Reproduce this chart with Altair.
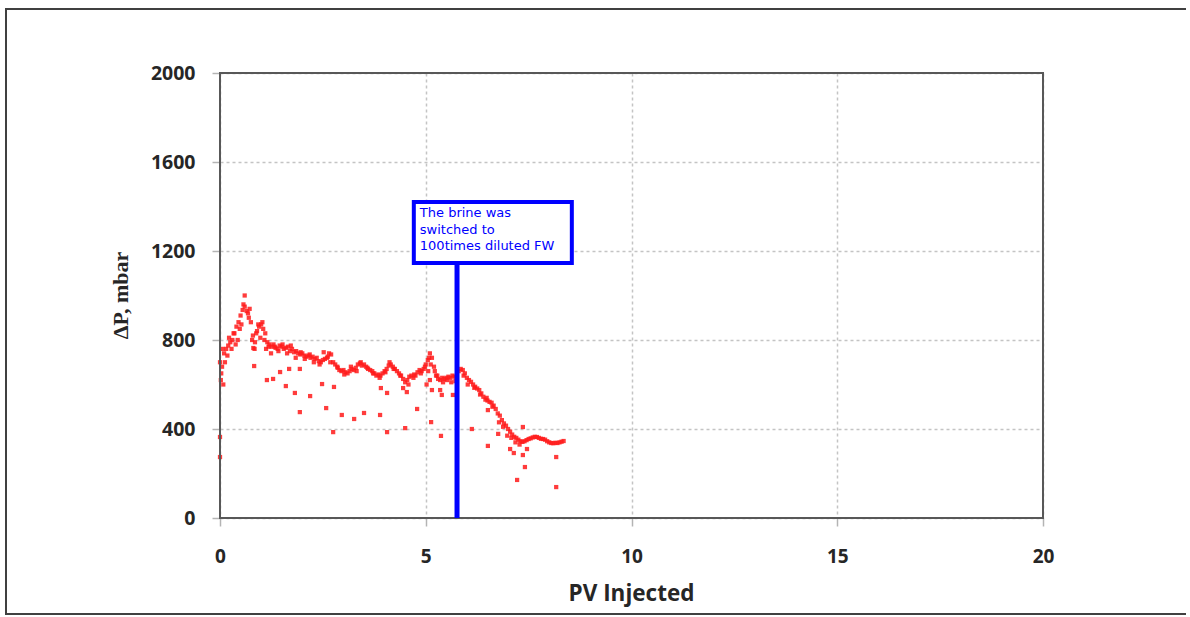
import altair as alt
import pandas as pd

# Main pressure-drop trace (PV injected vs. differential pressure, mbar)
pv_injected = [
    0.00, 0.05, 0.10, 0.15, 0.20, 0.25, 0.30, 0.35, 0.40, 0.45,
    0.50, 0.55, 0.60, 0.65, 0.70, 0.75, 0.80, 0.85, 0.90, 0.95,
    1.00, 1.05, 1.10, 1.15, 1.20, 1.25, 1.30, 1.35, 1.40, 1.45,
    1.50, 1.55, 1.60, 1.65, 1.70, 1.75, 1.80, 1.85, 1.90, 1.95,
    2.00, 2.05, 2.10, 2.15, 2.20, 2.25, 2.30, 2.35, 2.40, 2.45,
    2.50, 2.55, 2.60, 2.65, 2.70, 2.75, 2.80, 2.85, 2.90, 2.95,
    3.00, 3.05, 3.10, 3.15, 3.20, 3.25, 3.30, 3.35, 3.40, 3.45,
    3.50, 3.55, 3.60, 3.65, 3.70, 3.75, 3.80, 3.85, 3.90, 3.95,
    4.00, 4.05, 4.10, 4.15, 4.20, 4.25, 4.30, 4.35, 4.40, 4.45,
    4.50, 4.55, 4.60, 4.65, 4.70, 4.75, 4.80, 4.85, 4.90, 4.95,
    5.00, 5.05, 5.10, 5.15, 5.20, 5.25, 5.30, 5.35, 5.40, 5.45,
    5.50, 5.55, 5.60, 5.65, 5.70, 5.75, 5.80, 5.85, 5.90, 5.95,
    6.00, 6.05, 6.10, 6.15, 6.20, 6.25, 6.30, 6.35, 6.40, 6.45,
    6.50, 6.55, 6.60, 6.65, 6.70, 6.75, 6.80, 6.85, 6.90, 6.95,
    7.00, 7.05, 7.10, 7.15, 7.20, 7.25, 7.30, 7.35, 7.40, 7.45,
    7.50, 7.55, 7.60, 7.65, 7.70, 7.75, 7.80, 7.85, 7.90, 7.95,
    8.00, 8.05, 8.10, 8.15, 8.20, 8.25, 8.30, 8.35,
]
delta_p = [
    700, 680, 740, 760, 775, 790, 800, 830, 860, 880,
    910, 935, 950, 930, 900, 880, 820, 790, 840, 860,
    870, 850, 830, 790, 780, 770, 780, 765, 760, 775,
    770, 760, 765, 770, 750, 760, 745, 750, 740, 735,
    740, 730, 725, 730, 720, 725, 715, 720, 705, 700,
    710, 715, 720, 740, 735, 700, 690, 680, 665, 660,
    665, 655, 650, 660, 670, 665, 675, 690, 695, 685,
    690, 680, 670, 665, 660, 650, 640, 645, 640, 650,
    660, 670, 685, 690, 680, 670, 660, 650, 640, 625,
    610, 620, 635, 640, 630, 640, 655, 665, 660, 670,
    690, 710, 740, 720, 680, 640, 625, 620, 630, 625,
    630, 635, 630, 640, 635, 630, 660, 670, 665, 650,
    630, 620, 612, 600, 590, 582, 575, 560, 545, 532,
    528, 522, 518, 505, 490, 470, 460, 440, 425, 415,
    400, 388, 375, 365, 360, 352, 345, 342, 345, 350,
    355, 358, 362, 365, 364, 360, 356, 355, 352, 345,
    340, 337, 336, 338, 337, 340, 343, 346,
]

# Readings scattered close to the main trace
near_band = [
    (0.02, 620), (0.03, 650), (0.06, 760), (0.08, 600), (0.12, 700),
    (0.18, 730), (0.22, 810), (0.28, 760), (0.33, 830), (0.38, 780),
    (0.43, 800), (0.48, 850), (0.52, 870), (0.57, 960), (0.60, 1000),
    (0.68, 920), (0.72, 940), (0.78, 800), (0.84, 760), (0.88, 830),
    (0.93, 870), (0.98, 810), (1.03, 880), (1.08, 800), (1.12, 760),
    (1.18, 770), (1.24, 740), (1.33, 770), (1.42, 750), (1.52, 780),
    (1.63, 740), (1.72, 775), (1.84, 720), (1.96, 745), (2.06, 715),
    (2.18, 735), (2.28, 700), (2.42, 690), (2.52, 745), (2.62, 725),
    (2.68, 700), (2.86, 675), (3.02, 645), (3.18, 680), (3.32, 660),
    (3.42, 700), (3.58, 675), (3.72, 650), (3.88, 630), (4.02, 655),
    (4.12, 700), (4.22, 670), (4.38, 640), (4.58, 600), (4.72, 645),
    (4.88, 650), (4.98, 680), (5.02, 600), (5.06, 660), (5.08, 720),
    (5.12, 690), (5.22, 660), (5.28, 640), (5.42, 610), (5.52, 620),
    (5.62, 610), (5.72, 615), (5.92, 640), (6.02, 600), (6.18, 585),
    (6.32, 555), (6.48, 540), (6.62, 500), (6.78, 430), (6.88, 410),
    (6.98, 370), (7.08, 360), (7.18, 340), (7.28, 330),
]

# Isolated low readings
outliers = [
    (0.00, 364), (0.00, 274), (0.83, 683), (0.81, 764), (1.14, 620),
    (1.29, 625), (1.46, 656), (1.60, 593), (1.68, 670), (1.82, 562),
    (1.94, 476), (1.94, 670), (2.19, 548), (2.48, 602), (2.58, 494),
    (2.75, 386), (2.77, 589), (2.96, 463), (3.26, 445), (3.50, 472),
    (3.89, 463), (3.91, 584), (4.06, 562), (4.06, 386), (4.50, 404),
    (4.45, 584), (4.54, 566), (4.79, 490), (5.10, 620), (5.15, 575),
    (5.13, 431), (5.35, 575), (5.39, 553), (5.37, 369), (5.66, 553),
    (6.12, 400), (6.51, 485), (6.51, 324), (6.76, 378), (7.05, 310),
    (7.14, 292), (7.22, 171), (7.36, 409), (7.36, 283), (7.41, 229),
    (7.46, 310), (8.17, 274), (8.17, 139),
]

# Brine switch marker and its note
switch_pv = 5.76
note_pv = (4.71, 8.55)
note_dp = (1146, 1420)
note_lines = ["The brine was", "switched to", "100times diluted FW"]

extra = near_band + outliers
points = pd.DataFrame({
    "pv": pv_injected + [p for p, _ in extra],
    "dp": delta_p + [d for _, d in extra],
})

W, H = 823, 445
x_scale = alt.Scale(domain=[0, 20], nice=False, zero=False)
y_scale = alt.Scale(domain=[0, 2000], nice=False)

tick_font = "Open Sans"
label_color = "#262626"

x_axis = alt.Axis(
    values=[0, 5, 10, 15, 20], title="PV Injected", format="d",
    grid=True, gridDash=[3, 3], gridColor="#c4c4c4", gridWidth=1.5,
    domain=False, tickColor="#b4b4b4", tickSize=8, tickWidth=1.5,
    labelFont=tick_font, labelFontSize=19, labelFontWeight="bold",
    labelColor=label_color, labelPadding=21, labelFlush=False,
    titleFont=tick_font, titleFontSize=22.5, titleFontWeight="bold",
    titleColor=label_color, titleX=411, titleY=75,
    titleBaseline="middle", titleAlign="center",
)
y_axis = alt.Axis(
    values=[0, 400, 800, 1200, 1600, 2000], title="ΔP, mbar", format="d",
    grid=True, gridDash=[3, 3], gridColor="#c4c4c4", gridWidth=1.5,
    domain=False, tickColor="#b4b4b4", tickSize=8, tickWidth=1.5,
    labelFont=tick_font, labelFontSize=19.5, labelFontWeight="bold",
    labelColor=label_color, labelPadding=17, labelFlush=False,
    titleFont="Liberation Serif", titleFontSize=22, titleFontWeight="bold",
    titleColor=label_color, titleX=-100, titleY=222, titleAngle=270,
    titleBaseline="middle", titleAlign="center",
)

one_row = alt.Data(values=[{}])

# Outer figure border: left, top and bottom edges (right edge runs off the page)
frame_rule = dict(color="#404040", strokeWidth=2)
frame_left = alt.Chart(one_row).mark_rule(**frame_rule).encode(
    x=alt.value(-214), y=alt.value(-64), y2=alt.value(541))
frame_top = alt.Chart(one_row).mark_rule(**frame_rule).encode(
    x=alt.value(-215), x2=alt.value(966), y=alt.value(-64))
frame_bottom = alt.Chart(one_row).mark_rule(**frame_rule).encode(
    x=alt.value(-215), x2=alt.value(966), y=alt.value(541))

scatter = alt.Chart(points).mark_square(
    size=18, color="#ff1a1a", opacity=0.85
).encode(
    x=alt.X("pv:Q", scale=x_scale, axis=x_axis),
    y=alt.Y("dp:Q", scale=y_scale, axis=y_axis),
)

# Plot-area border drawn above the gridlines
plot_border = alt.Chart(one_row).mark_rect(
    fillOpacity=0, stroke="#585858", strokeWidth=2
).encode(
    x=alt.value(0), x2=alt.value(W),
    y=alt.value(0), y2=alt.value(H),
)

marker = alt.Chart(alt.Data(values=[{"pv": switch_pv, "lo": 0, "hi": note_dp[0]}])).mark_rule(
    color="#0000ff", strokeWidth=5
).encode(
    x=alt.X("pv:Q", scale=x_scale),
    y=alt.Y("lo:Q", scale=y_scale),
    y2="hi:Q",
)

note_box = alt.Chart(alt.Data(values=[{
    "x0": note_pv[0], "x1": note_pv[1], "y0": note_dp[0], "y1": note_dp[1]
}])).mark_rect(
    fill="white", stroke="#0000ff", strokeWidth=4
).encode(
    x=alt.X("x0:Q", scale=x_scale), x2="x1:Q",
    y=alt.Y("y1:Q", scale=y_scale), y2="y0:Q",
)

note_text = alt.Chart(alt.Data(values=[{"x0": note_pv[0], "y1": note_dp[1]}])).mark_text(
    align="left", baseline="top", dx=6, dy=5,
    font="DejaVu Sans", fontSize=13, lineHeight=16.5, color="#0000ff",
).encode(
    x=alt.X("x0:Q", scale=x_scale),
    y=alt.Y("y1:Q", scale=y_scale),
    text=alt.value(note_lines),
)

chart = alt.layer(
    frame_left, frame_top, frame_bottom, scatter, plot_border,
    marker, note_box, note_text,
).properties(
    width=W, height=H,
    autosize=alt.AutoSizeParams(type="none"),
    padding={"left": 220, "top": 73, "right": 147, "bottom": 99},
    background="white",
).configure_view(
    stroke=None
)

chart.save("out.html", embed_options={"renderer": "svg", "actions": False})
